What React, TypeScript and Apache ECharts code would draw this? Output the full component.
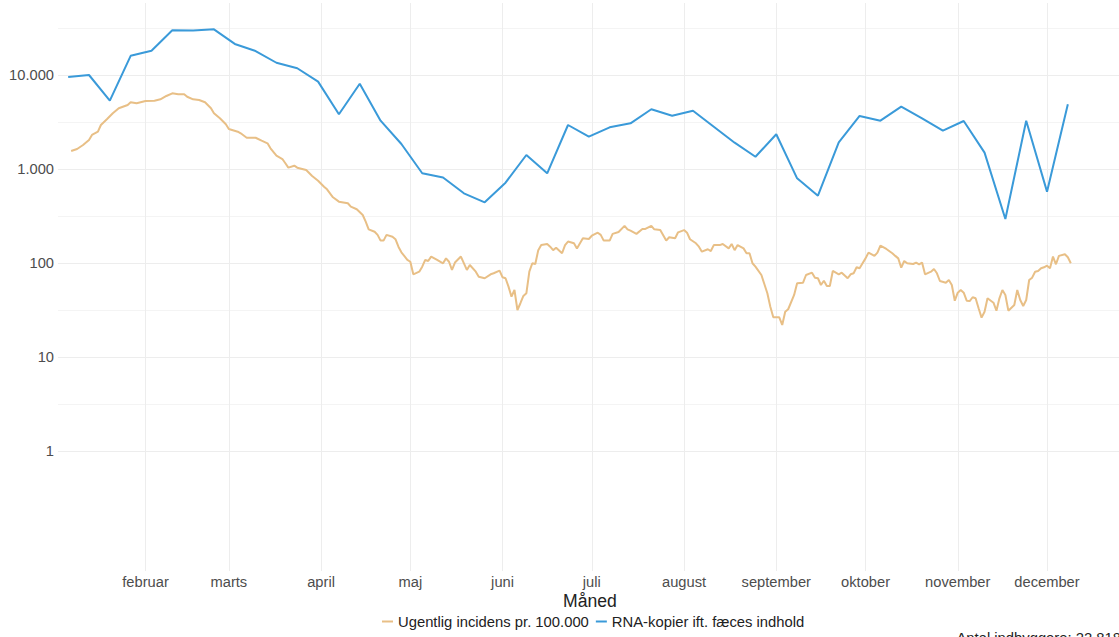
import React, { useEffect, useRef } from 'react';
import * as echarts from 'echarts';

// ---- tick labels / categories ----
const monthLabels = ['februar', 'marts', 'april', 'maj', 'juni', 'juli', 'august', 'september', 'oktober', 'november', 'december'];
const monthStartDays = [31, 59, 90, 120, 151, 181, 212, 243, 273, 304, 334]; // days since 1 January
const yTickValues = [1, 10, 100, 1000, 10000];
const yMinorValues = [3.1623, 31.623, 316.23, 3162.3, 31623];

const seriesNames = ['Ugentlig incidens pr. 100.000', 'RNA-kopier ift. fæces indhold'];
const xTitle = 'Måned';
const caption = 'Antal indbyggere: 22.818';

// ---- RNA copies (weekly samples), days since 1 January ----
const rnaDays = [
  5, 12, 19, 26, 33, 40, 47, 54, 61, 68,
  75, 82, 89, 96, 103, 110, 117, 124, 131, 138,
  145, 152, 159, 166, 173, 180, 187, 194, 201, 208,
  215, 222, 229, 236, 243, 250, 257, 264, 271, 278,
  285, 292, 299, 306, 313, 320, 327, 334, 341,
];
const rnaValues = [
  9530, 10000, 5330, 16000, 18100, 29900, 29700, 30600, 21400, 18000,
  13500, 11800, 8500, 3820, 8070, 3265, 1845, 900, 813, 551,
  442, 715, 1409, 900, 2938, 2208, 2775, 3063, 4317, 3690,
  4170, 2820, 1905, 1350, 2340, 796, 520, 1923, 3664, 3265,
  4600, 3457, 2555, 3240, 1492, 294, 3265, 574, 4880,
];

// ---- weekly incidence per 100.000 (daily), days since 1 January ----
const incDays = [
  6, 8, 10, 12, 13, 15, 16, 18, 20, 22,
  25, 26, 28, 31, 34, 36, 38, 40, 42, 44,
  45, 47, 49, 51, 53, 54, 56, 58, 59, 62,
  63, 65, 67, 68, 70, 72, 73, 75, 77, 78,
  79, 81, 82, 85, 87, 89, 91, 92, 94, 96,
  99, 100, 102, 104, 105, 106, 108, 109, 110, 111,
  112, 114, 115, 116, 117, 119, 120, 121, 123, 124,
  125, 126, 127, 129, 131, 132, 133, 134, 135, 137,
  139, 140, 142, 143, 145, 147, 148, 150, 151, 152,
  153, 154, 155, 156, 157, 158, 159, 160, 161, 162,
  163, 164, 166, 167, 168, 169, 171, 172, 173, 175,
  176, 178, 180, 181, 183, 184, 185, 187, 188, 190,
  192, 193, 194, 196, 198, 199, 201, 202, 204, 206,
  207, 209, 210, 212, 213, 214, 216, 217, 218, 220,
  221, 222, 224, 225, 227, 228, 229, 230, 232, 233,
  234, 235, 236, 238, 240, 241, 242, 244, 245, 246,
  247, 249, 250, 252, 253, 255, 256, 257, 258, 259,
  260, 261, 262, 264, 265, 267, 268, 269, 270, 271,
  272, 273, 274, 276, 277, 278, 280, 282, 283, 284,
  285, 286, 287, 289, 290, 291, 292, 293, 295, 296,
  297, 298, 300, 301, 302, 303, 304, 305, 306, 307,
  308, 309, 310, 311, 312, 313, 314, 316, 317, 318,
  319, 320, 321, 323, 324, 325, 326, 327, 328, 329,
  330, 331, 332, 333, 334, 335, 336, 337, 338, 340,
  341, 342,
];
const incValues = [
  1552, 1633, 1800, 2036, 2300, 2494, 2938, 3380, 3917, 4425,
  4797, 5126, 5000, 5287, 5330, 5510, 5980, 6383, 6237, 6237,
  5875, 5510, 5420, 5126, 4425, 3917, 3460, 2990, 2665, 2494,
  2398, 2153, 2153, 2150, 2000, 1876, 1660, 1384, 1277, 1150,
  1033, 1084, 1033, 976, 843, 751, 648, 608, 500, 449,
  432, 397, 373, 324, 275, 228, 215, 199, 173, 173,
  199, 190, 179, 149, 130, 108, 103, 75.8, 80.8, 91.4,
  108, 105, 117, 108, 99.3, 112, 103, 84.3, 101, 117,
  84.3, 95.2, 80.8, 71.5, 68.8, 75.8, 77.7, 82.8, 70.4, 68.8,
  56.0, 43.8, 51.6, 31.6, 37.3, 44.6, 47.6, 80.8, 99.3, 97.6,
  137, 155, 159, 149, 137, 145, 127, 155, 169, 162,
  143, 183, 180, 195, 210, 199, 173, 173, 204, 214,
  248, 228, 221, 204, 230, 230, 248, 228, 224, 173,
  188, 183, 212, 224, 210, 179, 162, 149, 132, 140,
  134, 155, 155, 159, 143, 159, 137, 155, 143, 127,
  127, 99.3, 91.4, 74.5, 47.6, 34.3, 26.4, 26.4, 21.9, 30.3,
  32.2, 45.7, 60.8, 61.7, 74.5, 78.9, 69.8, 68.8, 58.3, 64.8,
  56.9, 56.9, 82.2, 75.8, 78.9, 68.8, 75.8, 77.7, 90.0, 87.9,
  99.3, 112, 129, 119, 129, 153, 141, 127, 119, 112,
  89.1, 105, 99.3, 97.6, 101, 96.9, 101, 75.8, 80.8, 86.3,
  77.7, 64.3, 61.7, 65.9, 58.3, 39.7, 48.3, 51.6, 48.3, 39.7,
  39.4, 43.2, 42.1, 33.0, 26.2, 30.3, 42.1, 37.8, 31.1, 42.1,
  51.6, 45.7, 31.1, 35.7, 51.6, 40.4, 34.9, 40.4, 65.9, 69.8,
  80.8, 82.2, 87.9, 90.0, 93.6, 87.9, 117, 96.9, 119, 124,
  115, 99.3,
];

const fmtNum = (n: number) => String(n).replace(/\B(?=(\d{3})+(?!\d))/g, '.');

const FONT = "'Liberation Sans', Arial, sans-serif";
const BLUE = '#3a9ad9';
const ORANGE = '#e8bf86';
const GRID = '#ededed';

export default function App() {
  const ref = useRef<HTMLDivElement>(null);

  useEffect(() => {
    if (!ref.current) return;
    const chart = echarts.init(ref.current, undefined, { renderer: 'svg' });

    const incData = incDays.map((d, i) => [d, Math.log10(incValues[i])]);
    const rnaData = rnaDays.map((d, i) => [d, Math.log10(rnaValues[i])]);

    const gridLines: any[] = [
      ...yTickValues.map((v) => ({ yAxis: Math.log10(v), lineStyle: { width: 1 } })),
      ...yMinorValues.map((v) => ({ yAxis: Math.log10(v), lineStyle: { width: 0.6 } })),
      ...monthStartDays.map((d) => ({ xAxis: d, lineStyle: { width: 1 } })),
    ];

    chart.setOption({
      animation: false,
      textStyle: { fontFamily: FONT },
      grid: { left: 58, top: 3, right: 0, height: 568, containLabel: false },
      legend: {
        data: seriesNames,
        left: 377,
        top: 609,
        icon: 'rect',
        itemWidth: 11,
        itemHeight: 2,
        itemGap: 7,
        textStyle: { fontSize: 14.8, color: '#222', fontFamily: FONT },
      },
      xAxis: {
        type: 'value',
        min: 1.58,
        max: 359.2,
        axisLine: { show: false },
        axisTick: { show: false },
        splitLine: { show: false },
        axisLabel: {
          customValues: monthStartDays,
          margin: 3,
          color: '#4d4d4d',
          fontSize: 14.7,
          fontFamily: FONT,
          formatter: (v: number) => {
            const idx = monthStartDays.indexOf(Math.round(v));
            return idx >= 0 ? monthLabels[idx] : '';
          },
        },
      },
      yAxis: {
        type: 'value',
        min: -1.277,
        max: 4.766,
        axisLine: { show: false },
        axisTick: { show: false },
        splitLine: { show: false },
        axisLabel: {
          customValues: yTickValues.map((v) => Math.log10(v)),
          margin: 4,
          color: '#4d4d4d',
          fontSize: 14.7,
          fontFamily: FONT,
          formatter: (v: number) => fmtNum(Math.round(Math.pow(10, v))),
        },
      },
      graphic: [
        {
          type: 'text',
          x: 590,
          y: 601,
          style: { text: xTitle, fontSize: 17.6, fontFamily: FONT, fill: '#222', align: 'center', verticalAlign: 'middle' },
        },
        {
          type: 'text',
          x: 1121,
          y: 638,
          style: { text: caption, fontSize: 14.8, fontFamily: FONT, fill: '#222', align: 'right', verticalAlign: 'middle' },
        },
      ],
      series: [
        {
          name: '__grid',
          type: 'line',
          data: rnaData,
          symbol: 'none',
          showSymbol: false,
          silent: true,
          z: 0,
          lineStyle: { opacity: 0 },
          itemStyle: { opacity: 0 },
          markLine: {
            silent: true,
            z: 0,
            symbol: ['none', 'none'],
            label: { show: false },
            lineStyle: { color: GRID, type: 'solid', width: 1 },
            emphasis: { disabled: true },
            data: gridLines,
          },
        },
        {
          name: seriesNames[0],
          type: 'line',
          data: incData,
          symbol: 'none',
          showSymbol: false,
          z: 2,
          color: ORANGE,
          lineStyle: { color: ORANGE, width: 2 },
        },
        {
          name: seriesNames[1],
          type: 'line',
          data: rnaData,
          symbol: 'none',
          showSymbol: false,
          z: 3,
          color: BLUE,
          lineStyle: { color: BLUE, width: 2 },
        },
      ],
    });

    return () => chart.dispose();
  }, []);

  return (
    <div
      ref={ref}
      style={{ position: 'fixed', left: 0, top: 0, width: 1122, height: 650, background: '#fff' }}
    />
  );
}
